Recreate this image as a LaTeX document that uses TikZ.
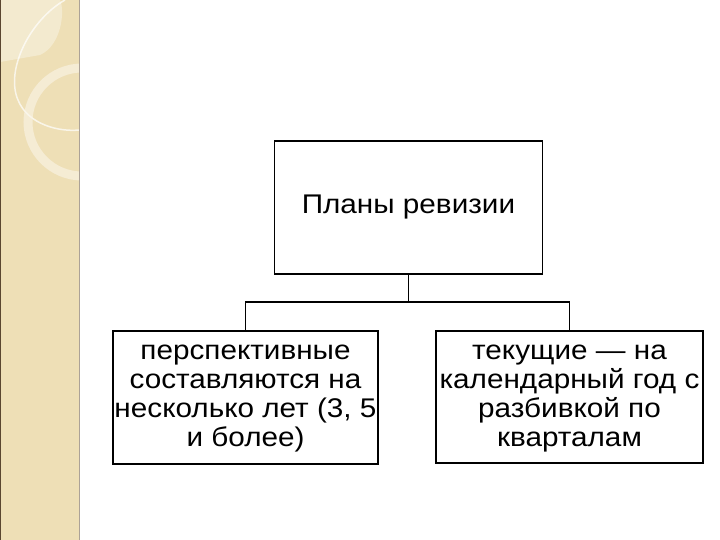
\documentclass[tikz,border=0pt]{standalone}
\usepackage{graphicx}
\usepackage{fontspec}
\setmainfont{Liberation Sans}
\newcommand{\boxtext}[1]{\scalebox{1.1}[1]{\begin{tabular}{@{}c@{}}#1\end{tabular}}}
\begin{document}
\begin{tikzpicture}[x=1pt,y=-1pt,
  box/.style={draw=black,line width=1.6pt,fill=white,inner sep=0pt,align=center,font=\fontsize{27}{29}\selectfont},
  conn/.style={draw=black,line width=1.6pt}]
\definecolor{strip}{HTML}{EEDFB6}
\definecolor{stripedge}{HTML}{5A4630}
\useasboundingbox (0,0) rectangle (720,540);
\fill[white] (0,0) rectangle (720,540);
% decorative strip
\fill[strip] (0,0) rectangle (79,540);
\begin{scope}
\clip (0,0) rectangle (79,540);
\fill[white,opacity=0.35] (0,62) -- (40,55) .. controls (62,45) and (65,10) .. (60,0) -- (0,0) -- cycle;
\draw[white,opacity=0.7,line width=1.5pt] (65,0) .. controls (30,20) and (5,70) .. (18,100) .. controls (28,125) and (60,132) .. (79,130);
\draw[white!70!strip,opacity=0.6,line width=9pt] (82,122) circle (54);
\end{scope}
\draw[stripedge,line width=1.2pt] (0.6,0) -- (0.6,540);
\draw[stripedge!50!white,line width=1pt] (79,0) -- (79,540);
% nodes
\node[box,minimum width=268pt,minimum height=133pt] (top) at (408.5,207.5) {\boxtext{Планы ревизии}};
\node[box,minimum width=265pt,minimum height=133pt] (left) at (245.5,397.5) {\boxtext{перспективные\\составляются на\\несколько лет (3, 5\\и более)}};
\node[box,minimum width=267pt,minimum height=132pt] (right) at (569.5,397) {\boxtext{текущие — на\\календарный год с\\разбивкой по\\кварталам}};
\coordinate (j) at (408.5,302);
\draw[conn] (top.south) -- (j);
\draw[conn] (left.north) |- (j) -| (right.north);
\end{tikzpicture}
\end{document}
